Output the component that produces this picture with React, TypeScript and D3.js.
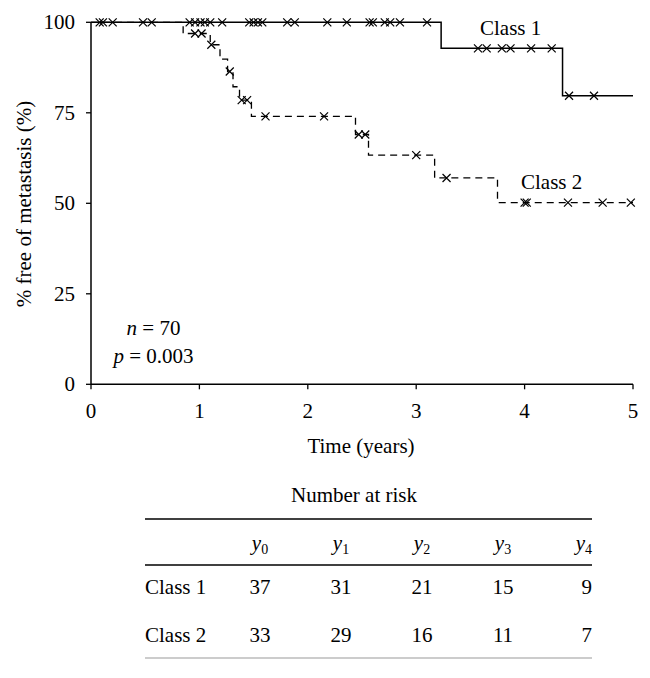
import React from "react";
import * as d3 from "d3";

// ---- data ----
const class1Times = [0, 3.23, 4.35];
const class1Surv = [100, 92.8, 79.7];
const class1Censor = [0.08, 0.11, 0.2, 0.48, 0.56, 0.91, 0.96, 1.01, 1.05, 1.1, 1.21, 1.46, 1.5, 1.54, 1.58, 1.81, 1.88, 2.18, 2.36, 2.57, 2.6, 2.71, 2.76, 2.85, 3.1, 3.57, 3.65, 3.79, 3.87, 4.06, 4.25, 4.41, 4.64];

const class2Times = [0, 0.85, 1.1, 1.19, 1.26, 1.31, 1.37, 1.48, 2.44, 2.56, 3.17, 3.75];
const class2Surv = [100, 96.9, 93.8, 89.8, 86.4, 82.2, 78.5, 74.0, 69.0, 63.3, 57.0, 50.2];
const class2Censor = [0.96, 1.02, 1.11, 1.28, 1.39, 1.44, 1.61, 2.15, 2.47, 2.53, 3.0, 3.28, 4.0, 4.02, 4.4, 4.72, 4.98];

const xTicks = [0, 1, 2, 3, 4, 5];
const yTicks = [0, 25, 50, 75, 100];

const riskCols = ["0", "1", "2", "3", "4"];
const riskRows = ["Class 1", "Class 2"];
const riskClass1 = [37, 31, 21, 15, 9];
const riskClass2 = [33, 29, 16, 11, 7];

const FONT = "'Liberation Serif', 'Times New Roman', serif";

export default function App() {
  const x = d3.scaleLinear().domain([0, 5]).range([91, 633]);
  const y = d3.scaleLinear().domain([0, 100]).range([384.3, 22.3]);

  const stepPath = (times: number[], surv: number[]) => {
    const pts: [number, number][] = times.map((t, i) => [t, surv[i]]);
    pts.push([5, surv[surv.length - 1]]);
    return d3
      .line<[number, number]>()
      .x((d) => x(d[0]))
      .y((d) => y(d[1]))
      .curve(d3.curveStepAfter)(pts) as string;
  };
  const survAt = (times: number[], surv: number[], t: number) => {
    const i = d3.bisectRight(times, t) - 1;
    return surv[Math.max(0, i)];
  };
  const marker = (cx: number, cy: number, key: string) => {
    const s = 4;
    return (
      <path
        key={key}
        d={`M${cx - s},${cy - s}L${cx + s},${cy + s}M${cx - s},${cy + s}L${cx + s},${cy - s}`}
        stroke="#000"
        strokeWidth={1.2}
        fill="none"
      />
    );
  };

  const colX = d3.scalePoint<string>().domain(riskCols).range([260, 584]);
  const colPos = (c: string, i: number) =>
    i === riskCols.length - 1 ? { x: 592, anchor: "end" } : { x: colX(c) as number, anchor: "middle" };
  const rowData = [riskClass1, riskClass2];
  const rowY = [593.5, 641.5];

  return (
    <svg
      width={650}
      height={678}
      style={{ position: "absolute", left: 0, top: 0, background: "#fff" }}
      fontFamily={FONT}
      fontSize={21}
    >
      {/* axes */}
      <line x1={x(0)} x2={x(0)} y1={y(100)} y2={y(0)} stroke="#000" strokeWidth={1.5} />
      <line x1={x(0)} x2={x(5)} y1={y(0)} y2={y(0)} stroke="#000" strokeWidth={1.5} />
      {yTicks.map((t) => (
        <g key={"yt" + t}>
          <line x1={x(0) - 5} x2={x(0)} y1={y(t)} y2={y(t)} stroke="#000" strokeWidth={1.3} />
          <text x={75} y={y(t)} dy="0.33em" textAnchor="end">
            {t}
          </text>
        </g>
      ))}
      {xTicks.map((t) => (
        <g key={"xt" + t}>
          <line x1={x(t)} x2={x(t)} y1={y(0)} y2={y(0) + 5} stroke="#000" strokeWidth={1.3} />
          <text x={x(t)} y={418} textAnchor="middle">
            {t}
          </text>
        </g>
      ))}
      <text x={361} y={453} textAnchor="middle">
        Time (years)
      </text>
      <text transform="translate(31,204) rotate(-90)" textAnchor="middle">
        % free of metastasis (%)
      </text>

      {/* curves */}
      <path d={stepPath(class2Times, class2Surv)} fill="none" stroke="#000" strokeWidth={1.3} strokeDasharray="7 5" />
      <path d={stepPath(class1Times, class1Surv)} fill="none" stroke="#000" strokeWidth={1.5} />
      {class1Censor.map((t, i) => marker(x(t), y(survAt(class1Times, class1Surv, t)), "c1" + i))}
      {class2Censor.map((t, i) => marker(x(t), y(survAt(class2Times, class2Surv, t)), "c2" + i))}

      <text x={480} y={34.5}>Class 1</text>
      <text x={521} y={189}>Class 2</text>

      <text x={153.5} y={335} textAnchor="middle">
        <tspan fontStyle="italic">n</tspan> = 70
      </text>
      <text x={153.5} y={363} textAnchor="middle">
        <tspan fontStyle="italic">p</tspan> = 0.003
      </text>

      {/* number at risk table */}
      <text x={354} y={501.5} textAnchor="middle">
        Number at risk
      </text>
      <line x1={145} x2={592} y1={519} y2={519} stroke="#000" strokeWidth={1.6} />
      {riskCols.map((c, i) => {
        const p = colPos(c, i);
        return (
          <text key={"h" + c} x={p.x} y={550} textAnchor={p.anchor}>
            <tspan fontStyle="italic">y</tspan>
            <tspan fontSize={14} dy={4}>
              {c}
            </tspan>
          </text>
        );
      })}
      <line x1={145} x2={592} y1={565} y2={565} stroke="#000" strokeWidth={1.6} />
      {riskRows.map((r, ri) => (
        <g key={r}>
          <text x={145} y={rowY[ri]}>
            {r}
          </text>
          {rowData[ri].map((v, i) => {
            const p = colPos(riskCols[i], i);
            return (
              <text key={i} x={p.x} y={rowY[ri]} textAnchor={p.anchor}>
                {v}
              </text>
            );
          })}
        </g>
      ))}
      <line x1={145} x2={592} y1={658} y2={658} stroke="#999" strokeWidth={1.2} />
    </svg>
  );
}
